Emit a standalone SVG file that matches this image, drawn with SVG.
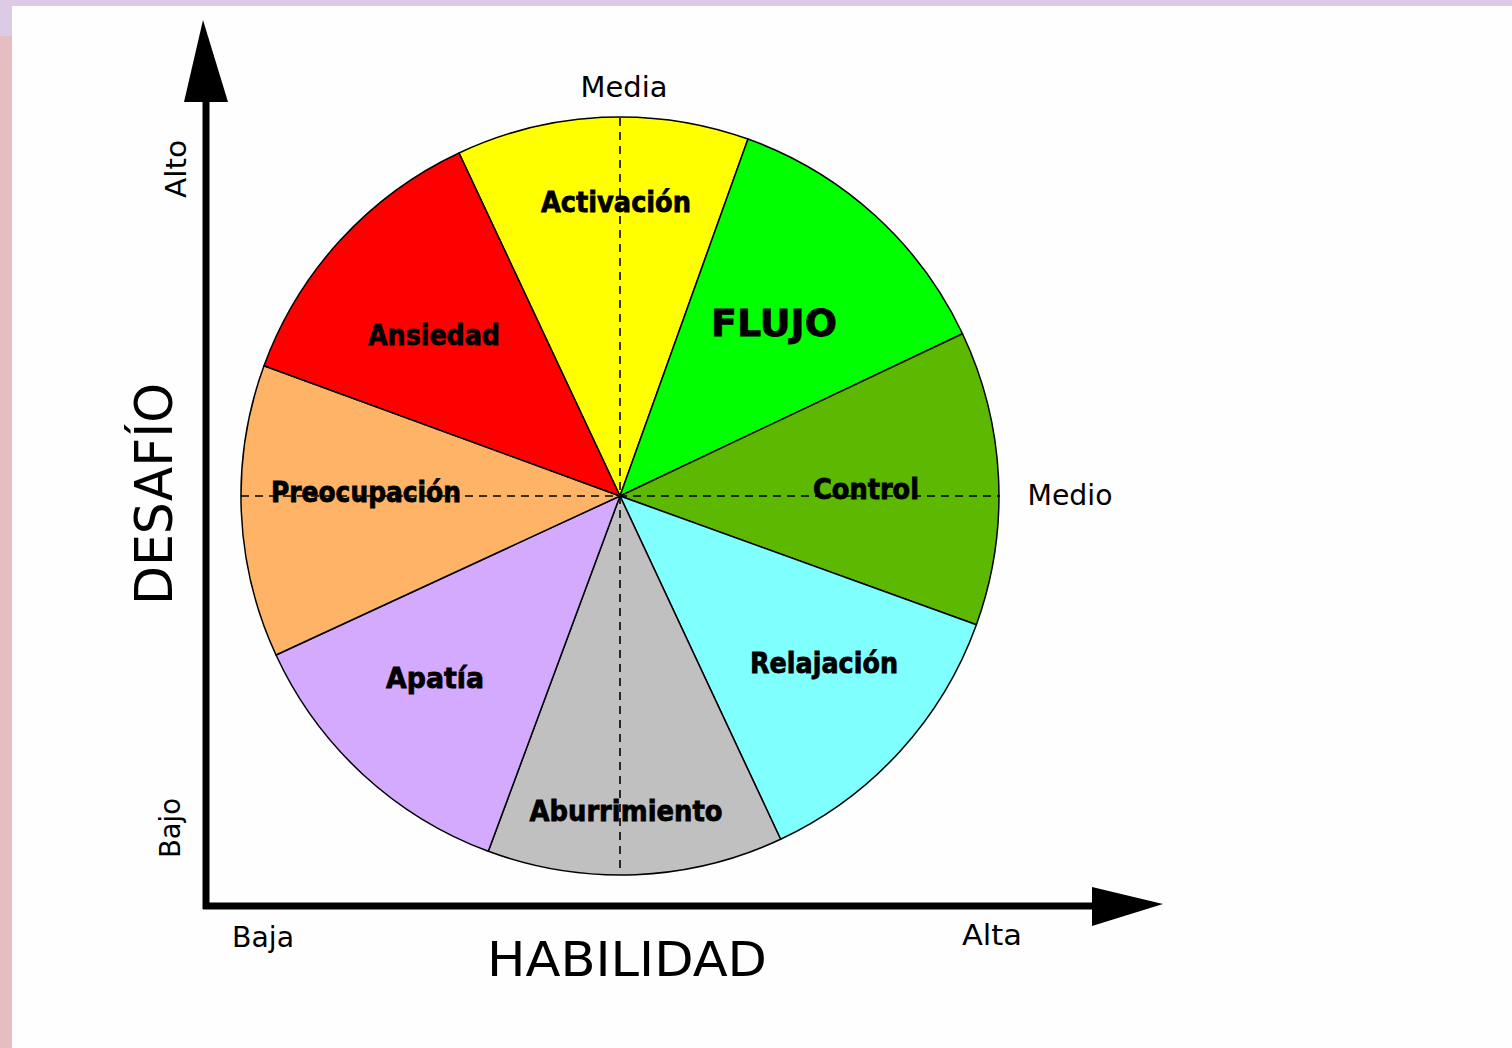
<svg xmlns="http://www.w3.org/2000/svg" width="1512" height="1048" viewBox="0 0 1512 1048">
<style>
.sec{stroke:#000;stroke-width:1.5;stroke-linejoin:round}
.lbl{font-family:"DejaVu Sans","Liberation Sans",sans-serif;font-weight:bold;fill:#000;stroke:#000;stroke-width:0.8;text-anchor:middle}
.ax{font-family:"DejaVu Sans","Liberation Sans",sans-serif;fill:#000;text-anchor:middle}
.dash{stroke:#000;stroke-width:1.6;stroke-dasharray:8 6;fill:none}
</style>
<rect x="0" y="0" width="1512" height="1048" fill="#fefefe"/>
<rect x="0" y="0" width="12" height="1048" fill="#e6bec2"/>
<rect x="0" y="0" width="1512" height="6" fill="#dccbe6"/>
<rect x="0" y="0" width="12" height="36" fill="#dccbe6"/>

<g id="wheel">
<g id="activacion"><path class="sec" fill="#ffff00" d="M620,496 L459,153 A379,379 0 0 1 748,139 Z"/></g>
<g id="flujo"><path class="sec" fill="#00ff00" d="M620,496 L748,139 A379,379 0 0 1 962.5,333.7 Z"/></g>
<g id="control"><path class="sec" fill="#5cb800" d="M620,496 L962.5,333.7 A379,379 0 0 1 976.4,624.7 Z"/></g>
<g id="relajacion"><path class="sec" fill="#80ffff" d="M620,496 L976.4,624.7 A379,379 0 0 1 780.6,839.3 Z"/></g>
<g id="aburrimiento"><path class="sec" fill="#c0c0c0" d="M620,496 L780.6,839.3 A379,379 0 0 1 488.3,851.3 Z"/></g>
<g id="apatia"><path class="sec" fill="#d4aaff" d="M620,496 L488.3,851.3 A379,379 0 0 1 276,655 Z"/></g>
<g id="preocupacion"><path class="sec" fill="#ffb366" d="M620,496 L276,655 A379,379 0 0 1 264,365.7 Z"/></g>
<g id="ansiedad"><path class="sec" fill="#ff0000" d="M620,496 L264,365.7 A379,379 0 0 1 459,153 Z"/></g>
</g>

<g id="connectors">
<line class="dash" x1="620" y1="118" x2="620" y2="874"/>
<line class="dash" x1="241" y1="496" x2="1000" y2="496"/>
<line x1="206" y1="98" x2="206" y2="909" stroke="#000" stroke-width="7"/>
<line x1="203" y1="906" x2="1094" y2="906" stroke="#000" stroke-width="7"/>
<polygon points="203,20 228,102 184,102" fill="#000"/>
<polygon points="1092,887 1163,904 1092,926" fill="#000"/>
</g>

<g id="labels">
<text class="lbl" x="616" y="212" font-size="28" textLength="150" lengthAdjust="spacingAndGlyphs">Activación</text>
<text class="lbl" x="774" y="336" font-size="38" textLength="126" lengthAdjust="spacingAndGlyphs">FLUJO</text>
<text class="lbl" x="434" y="345" font-size="28" textLength="132" lengthAdjust="spacingAndGlyphs">Ansiedad</text>
<text class="lbl" x="366" y="502" font-size="28" textLength="190" lengthAdjust="spacingAndGlyphs">Preocupación</text>
<text class="lbl" x="866" y="499" font-size="28" textLength="106" lengthAdjust="spacingAndGlyphs">Control</text>
<text class="lbl" x="435" y="688" font-size="28" textLength="98" lengthAdjust="spacingAndGlyphs">Apatía</text>
<text class="lbl" x="824" y="673" font-size="28" textLength="148" lengthAdjust="spacingAndGlyphs">Relajación</text>
<text class="lbl" x="626" y="821" font-size="28" textLength="193" lengthAdjust="spacingAndGlyphs">Aburrimiento</text>
</g>

<g id="axis-labels">
<text class="ax" x="624" y="97" font-size="28" textLength="87" lengthAdjust="spacingAndGlyphs">Media</text>
<text class="ax" x="1070" y="505" font-size="28" textLength="85" lengthAdjust="spacingAndGlyphs">Medio</text>
<text class="ax" x="263" y="947" font-size="28" textLength="62" lengthAdjust="spacingAndGlyphs">Baja</text>
<text class="ax" x="992" y="945" font-size="28" textLength="60" lengthAdjust="spacingAndGlyphs">Alta</text>
<text class="ax" x="627" y="976" font-size="48" textLength="280" lengthAdjust="spacingAndGlyphs">HABILIDAD</text>
<text class="ax" transform="translate(172,494) rotate(-90)" font-size="52" textLength="222" lengthAdjust="spacingAndGlyphs">DESAFÍO</text>
<text class="ax" transform="translate(186,169) rotate(-90)" font-size="28" textLength="58" lengthAdjust="spacingAndGlyphs">Alto</text>
<text class="ax" transform="translate(180,828) rotate(-90)" font-size="28" textLength="60" lengthAdjust="spacingAndGlyphs">Bajo</text>
</g>
</svg>
